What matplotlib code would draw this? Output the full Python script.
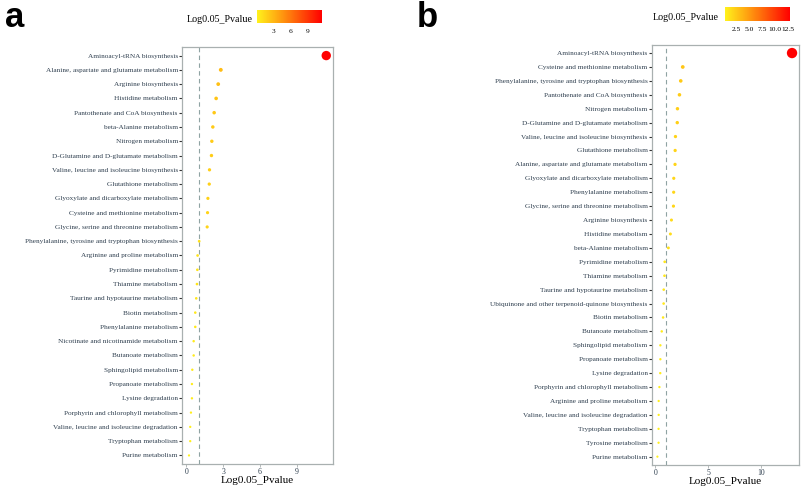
import numpy as np
import matplotlib
matplotlib.use('Agg')
import matplotlib.pyplot as plt
from matplotlib.colors import LinearSegmentedColormap, Normalize

# panel a
pathways_a = [
    "Aminoacyl-tRNA biosynthesis",
    "Alanine, aspartate and glutamate metabolism",
    "Arginine biosynthesis",
    "Histidine metabolism",
    "Pantothenate and CoA biosynthesis",
    "beta-Alanine metabolism",
    "Nitrogen metabolism",
    "D-Glutamine and D-glutamate metabolism",
    "Valine, leucine and isoleucine biosynthesis",
    "Glutathione metabolism",
    "Glyoxylate and dicarboxylate metabolism",
    "Cysteine and methionine metabolism",
    "Glycine, serine and threonine metabolism",
    "Phenylalanine, tyrosine and tryptophan biosynthesis",
    "Arginine and proline metabolism",
    "Pyrimidine metabolism",
    "Thiamine metabolism",
    "Taurine and hypotaurine metabolism",
    "Biotin metabolism",
    "Phenylalanine metabolism",
    "Nicotinate and nicotinamide metabolism",
    "Butanoate metabolism",
    "Sphingolipid metabolism",
    "Propanoate metabolism",
    "Lysine degradation",
    "Porphyrin and chlorophyll metabolism",
    "Valine, leucine and isoleucine degradation",
    "Tryptophan metabolism",
    "Purine metabolism",
]
logp_a = [11.4, 2.81, 2.6, 2.43, 2.27, 2.16, 2.08, 2.05, 1.89, 1.87, 1.76, 1.73, 1.7,
          1.05, 0.92, 0.9, 0.87, 0.81, 0.73, 0.73, 0.6, 0.6, 0.49, 0.46, 0.46, 0.38,
          0.32, 0.32, 0.22]

# panel b
pathways_b = [
    "Aminoacyl-tRNA biosynthesis",
    "Cysteine and methionine metabolism",
    "Phenylalanine, tyrosine and tryptophan biosynthesis",
    "Pantothenate and CoA biosynthesis",
    "Nitrogen metabolism",
    "D-Glutamine and D-glutamate metabolism",
    "Valine, leucine and isoleucine biosynthesis",
    "Glutathione metabolism",
    "Alanine, aspartate and glutamate metabolism",
    "Glyoxylate and dicarboxylate metabolism",
    "Phenylalanine metabolism",
    "Glycine, serine and threonine metabolism",
    "Arginine biosynthesis",
    "Histidine metabolism",
    "beta-Alanine metabolism",
    "Pyrimidine metabolism",
    "Thiamine metabolism",
    "Taurine and hypotaurine metabolism",
    "Ubiquinone and other terpenoid-quinone biosynthesis",
    "Biotin metabolism",
    "Butanoate metabolism",
    "Sphingolipid metabolism",
    "Propanoate metabolism",
    "Lysine degradation",
    "Porphyrin and chlorophyll metabolism",
    "Arginine and proline metabolism",
    "Valine, leucine and isoleucine degradation",
    "Tryptophan metabolism",
    "Tyrosine metabolism",
    "Purine metabolism",
]
logp_b = [12.94, 2.59, 2.4, 2.28, 2.09, 2.07, 1.9, 1.87, 1.86, 1.74, 1.73, 1.71, 1.52,
          1.42, 1.23, 0.88, 0.86, 0.79, 0.78, 0.73, 0.6, 0.47, 0.47, 0.46, 0.38, 0.31,
          0.31, 0.3, 0.3, 0.19]

plt.rcParams['font.family'] = ['Liberation Serif', 'DejaVu Serif']
cmap = LinearSegmentedColormap.from_list(
    'yr', [(0.0, '#FFF21C'), (0.35, '#FFA010'), (1.0, '#FF0000')])
label_col = '#2F3F4F'
spine_col = '#A9B0B0'

fig = plt.figure(figsize=(8.01, 4.88), dpi=100)
W, H = 801.0, 488.0


def panel(rect, cbrect, names, vals, xticks, xmax):
    ax = fig.add_axes([rect[0] / W, 1 - rect[3] / H, (rect[2] - rect[0]) / W, (rect[3] - rect[1]) / H])
    vals = np.array(vals)
    y = np.arange(len(names))
    norm = Normalize(vals.min(), vals.max())
    sizes = (1.8 + 0.55 * vals) ** 2 * 0.7
    ax.axvline(1, color='#8FA3A3', ls=(0, (4, 3)), lw=0.8, zorder=1)
    ax.scatter(vals, y, c=vals, cmap=cmap, norm=norm, s=sizes, edgecolors='none', zorder=3)
    ax.set_yticks(y)
    ax.set_yticklabels(names, fontsize=5.25, color=label_col)
    ax.set_ylim(len(names) - 0.4, -0.6)
    ax.set_xlim(-0.35, xmax)
    ax.set_xticks(xticks)
    ax.set_xticklabels([str(t) for t in xticks], fontsize=5.6, color=label_col)
    ax.tick_params(axis='y', length=2, width=0.8, color='#333333', pad=1)
    ax.tick_params(axis='x', length=2, width=0.6, color=spine_col, pad=1)
    for s in ax.spines.values():
        s.set_color(spine_col)
        s.set_linewidth(0.9)
    ax.set_xlabel('Log0.05_Pvalue', fontsize=8, labelpad=0)

    cax = fig.add_axes([cbrect[0] / W, 1 - cbrect[3] / H, (cbrect[2] - cbrect[0]) / W, (cbrect[3] - cbrect[1]) / H])
    cb = fig.colorbar(plt.cm.ScalarMappable(norm=norm, cmap=cmap), cax=cax, orientation='horizontal')
    cb.outline.set_visible(False)
    return ax, cax, cb


ax_a, cax_a, cb_a = panel((182, 47, 333, 464), (257, 10, 322, 23.3), pathways_a, logp_a,
                          [0, 3, 6, 9], 11.95)
cb_a.set_ticks([3, 6, 9])
cb_a.ax.tick_params(labelsize=5.4, length=2, color='white', pad=2)
fig.text(253 / W, 1 - 20 / H, 'Log0.05_Pvalue', fontsize=7.2, ha='right', va='center')

ax_b, cax_b, cb_b = panel((651.7, 44.7, 799, 465), (725, 7, 790, 21), pathways_b, logp_b,
                          [0, 5, 10], 13.6)
cb_b.set_ticks([2.5, 5.0, 7.5, 10.0, 12.5])
cb_b.set_ticklabels(['2.5', '5.0', '7.5', '10.0', '12.5'])
cb_b.ax.tick_params(labelsize=5.4, length=2, color='white', pad=2)
fig.text(719 / W, 1 - 18 / H, 'Log0.05_Pvalue', fontsize=7.2, ha='right', va='center')

fig.text(5 / W, 1 - 27 / H, 'a', fontsize=25, fontweight='bold', family='Liberation Sans', va='baseline')
fig.text(417 / W, 1 - 27 / H, 'b', fontsize=25, fontweight='bold', family='Liberation Sans', va='baseline')

fig.savefig('out.png', dpi=100)
